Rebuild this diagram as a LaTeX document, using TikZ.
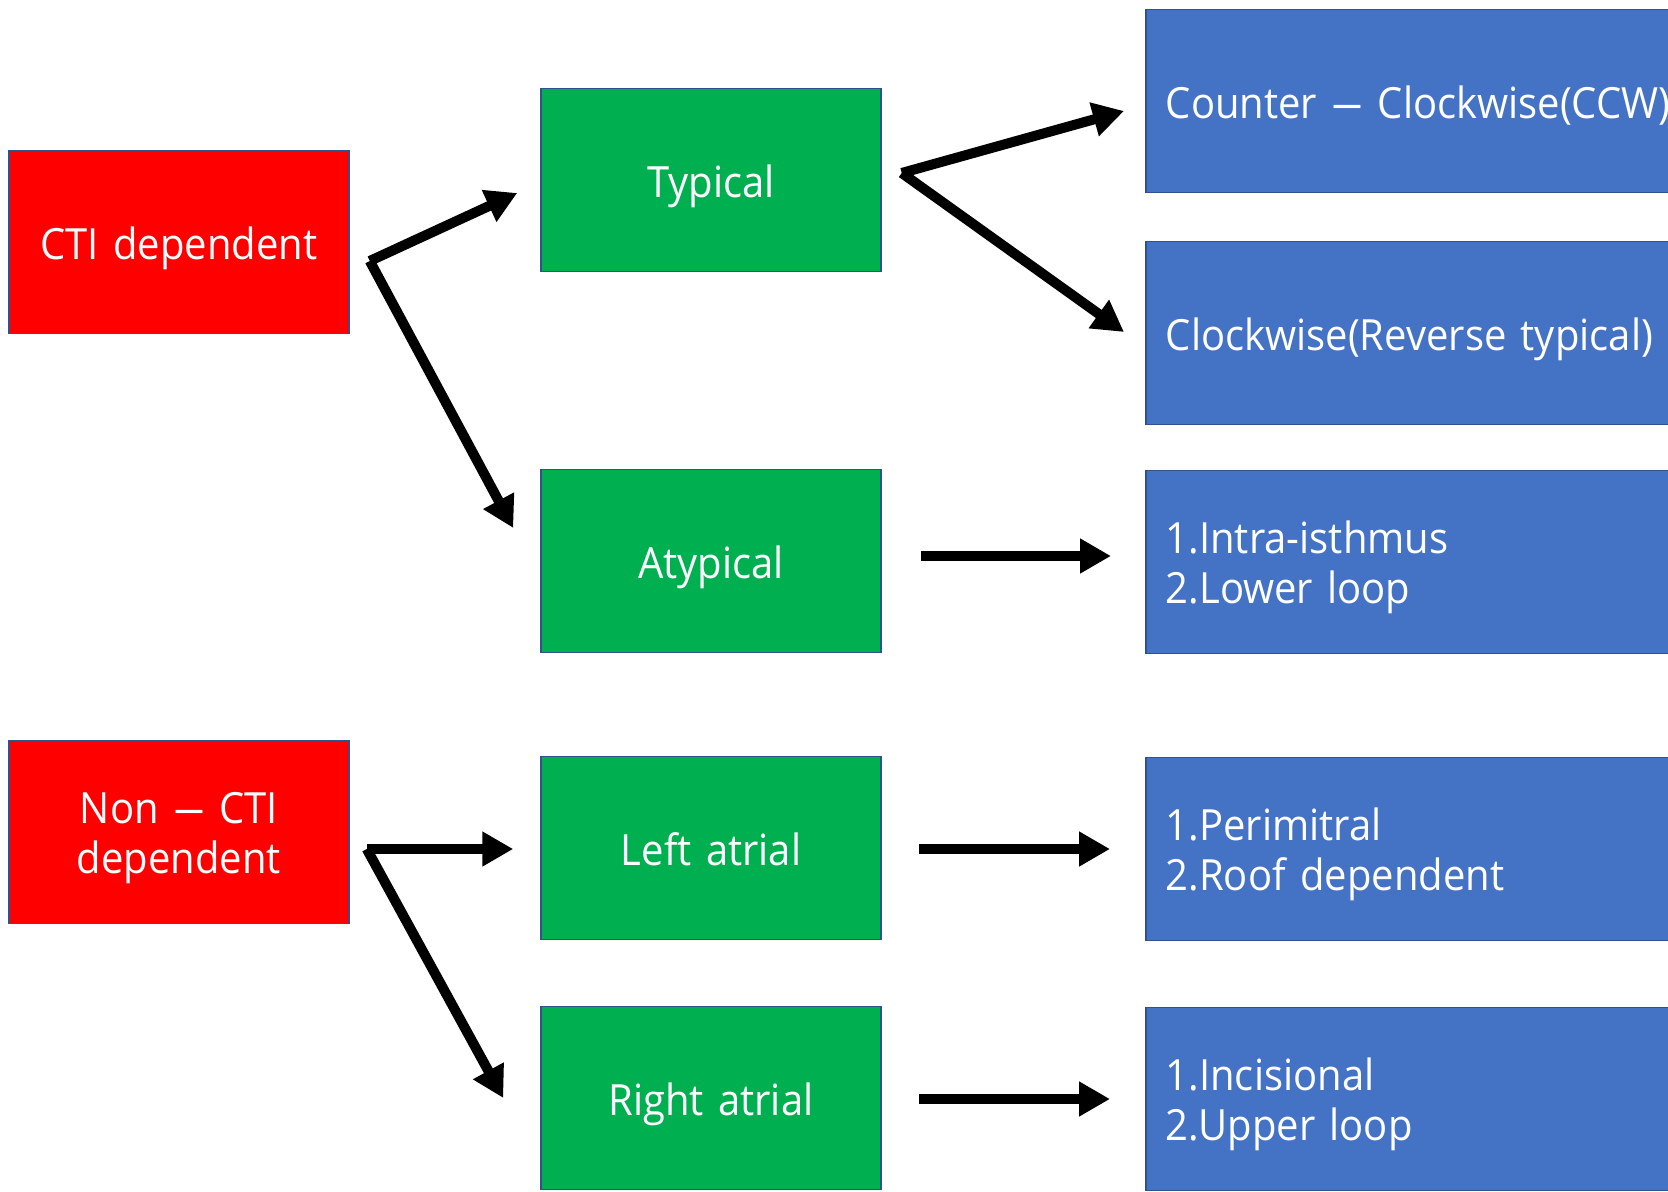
\documentclass[tikz,border=0pt]{standalone}
\usepackage{fontspec}
\setmainfont[FakeStretch=0.93]{Open Sans}
\usepackage{tikz}
\usepackage{xcolor}
\usetikzlibrary{arrows.meta,calc}
\definecolor{redhue}{RGB}{255, 0, 0}
\definecolor{greenhue}{RGB}{0, 176, 80}
\definecolor{bluehue}{RGB}{68, 114, 196}
\definecolor{edgehue}{RGB}{47, 82, 143}
\newcommand{\wdash}{\scalebox{1.6}[1]{--}}

\begin{document}
\begin{tikzpicture}[
        x=0.5pt, y=-0.5pt,
        every node/.style={
            draw=edgehue, line width=0.75pt, text=white,
            font=\fontsize{21.5}{25.25}\selectfont,
        },
        oneline/.style={text height=20pt, text depth=2.8pt},
        twoline/.style={text height=0pt, text depth=8.6pt},
        typebox/.style={fill=redhue, inner xsep=5pt, text width=160pt,
            minimum height=91.5pt, align=center},
        kindbox/.style={fill=greenhue, inner xsep=5pt, text width=160pt,
            minimum height=91.5pt, align=center, oneline},
        loopbox/.style={fill=bluehue, anchor=west, inner xsep=10pt,
            text width=300pt, minimum height=91.5pt, align=left},
        arr/.style={line width=5pt, -{Triangle[length=15.5pt, width=16.5pt]}},
    ]
    \useasboundingbox (0,0) rectangle (1668,1192);
    \clip (0,0) rectangle (1668,1192);

    % left column
    \node[typebox, oneline] (cti) at (179,242) {CTI dependent};
    \node[typebox, twoline] (noncti) at (179,832) {Non \wdash{} CTI\\dependent};

    % middle column
    \node[kindbox] (typical) at (711,180) {Typical};
    \node[kindbox] (atypical) at (711,561) {Atypical};
    \node[kindbox] (leftatr) at (711,848) {Left atrial};
    \node[kindbox] (rightatr) at (711,1098) {Right atrial};

    % right column
    \node[loopbox, oneline] (ccw) at (1145,101) {Counter \wdash{} Clockwise(CCW)};
    \node[loopbox, oneline] (cw) at (1145,333) {Clockwise(Reverse typical)};
    \node[loopbox, twoline] (intra) at (1145,562) {1.Intra-isthmus\\2.Lower loop};
    \node[loopbox, twoline] (perim) at (1145,849) {1.Perimitral\\2.Roof dependent};
    \node[loopbox, twoline] (incis) at (1145,1099) {1.Incisional\\2.Upper loop};

    % forks
    \coordinate (ctifork) at ($(cti.east)+(20,19)$);
    \coordinate (typfork) at ($(typical.east)+(20,-7)$);
    \coordinate (nonfork) at ($(noncti.east)+(17,17)$);

    \draw[arr] (ctifork) -- ($(typical.west)+(-23,13)$);
    \draw[arr] (ctifork) -- ($(atypical.west)+(-27,-33)$);
    \draw[arr] (typfork) -- ($(ccw.west)+(-21,10)$);
    \draw[arr] (typfork) -- ($(cw.west)+(-21,-1)$);
    \draw[arr] ($(atypical.east)+(39,-5)$) -- ($(intra.west)+(-34,-6)$);
    \draw[arr] (nonfork) -- ($(leftatr.west)+(-27,1)$);
    \draw[arr] (nonfork) -- ($(rightatr.west)+(-37,0)$);
    \draw[arr] ($(leftatr.east)+(37,1)$) -- ($(perim.west)+(-35,0)$);
    \draw[arr] ($(rightatr.east)+(37,1)$) -- ($(incis.west)+(-35,0)$);
\end{tikzpicture}
\end{document}
